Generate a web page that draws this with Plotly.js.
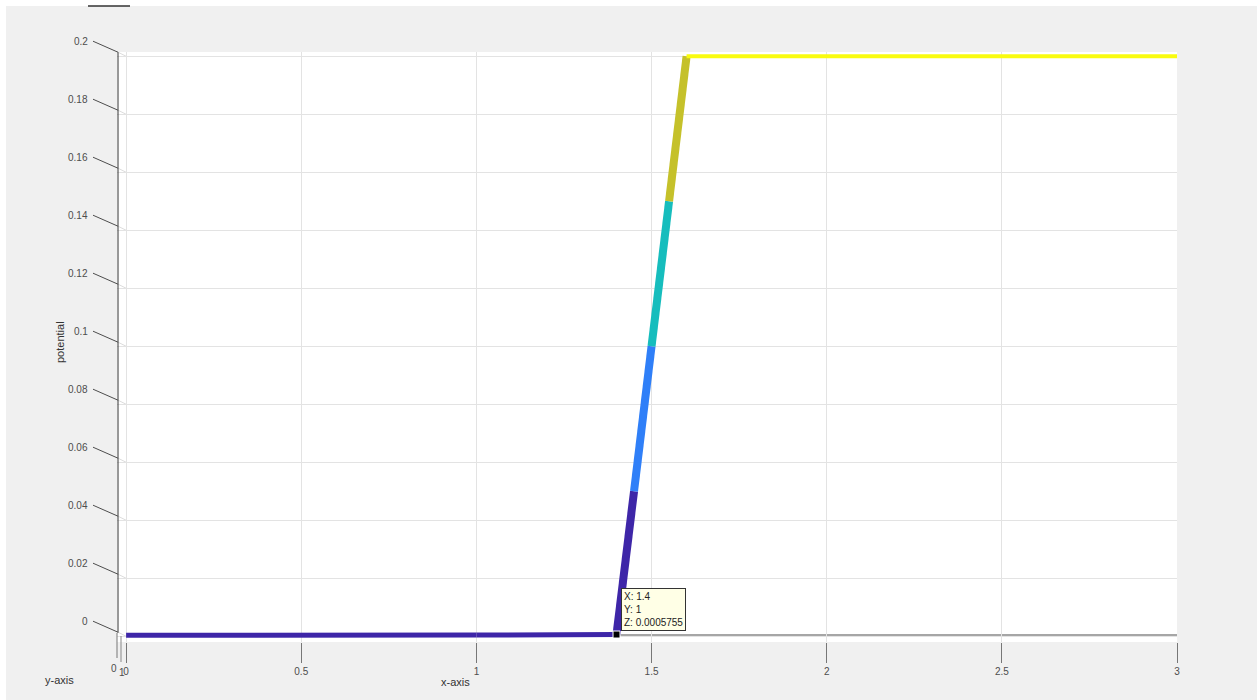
<!DOCTYPE html>
<html>
<head>
<meta charset="utf-8">
<script src="https://cdn.plot.ly/plotly-3.0.1.min.js"></script>
<style>html,body{margin:0;padding:0;background:#f0f0f0;}#chart{width:1257px;height:700px;}</style>
</head>
<body>
<div id="chart"></div>
<script>
// ---- data ----
const xValues = [0, 1, 1.4, 1.45, 1.5, 1.55, 1.6, 3];
const zValues = [0.0003, 0.0004, 0.0005755, 0.05, 0.1, 0.15, 0.2, 0.2];
const xTicks = [0, 0.5, 1, 1.5, 2, 2.5, 3];
const xTickLabels = ['0', '0.5', '1', '1.5', '2', '2.5', '3'];
const zTicks = [0, 0.02, 0.04, 0.06, 0.08, 0.1, 0.12, 0.14, 0.16, 0.18, 0.2];
const zTickLabels = ['0', '0.02', '0.04', '0.06', '0.08', '0.1', '0.12', '0.14', '0.16', '0.18', '0.2'];
const yDepthTickLabels = ['0', '1'];
const tipX = 1.4, tipY = 1, tipZ = 0.0005755;

// ---- style ----
const W = 1257, H = 700, L = 117, R = 80, T = 52, B = 58;
const zRange = [-0.002, 0.20145];
const pxX = p => (p - L) / (W - L - R);
const pxY = p => (H - B - p) / (H - T - B);
const zPerPx = (zRange[1] - zRange[0]) / (H - T - B);
const zPaper = v => (v - zRange[0]) / (zRange[1] - zRange[0]);
const cmapStops = ['#3e26a8', '#2f7ff8', '#16bdbd', '#c5c12a', '#f9fb0e'];
const zMax = Math.max(...zValues);
function cmap(z) {
  const t = Math.max(0, Math.min(1, z / zMax));
  return cmapStops[Math.min(cmapStops.length - 1, Math.floor(t * (cmapStops.length - 1) + 1e-6))];
}
const font = 'Liberation Sans, Arial, Helvetica, sans-serif';
const tickColor = '#4d4d4d';

// ---- traces: one per face, coloured by its first vertex (flat shading) ----
const traces = [];
for (let i = 0; i < xValues.length - 1; i++) {
  const dz = Math.abs(zValues[i + 1] - zValues[i]);
  const w = dz > 0.01 ? 8 : (zValues[i] > zMax / 2 ? 4 : 5);
  traces.push({
    type: 'scatter', mode: 'lines',
    x: [xValues[i], xValues[i + 1]], y: [zValues[i], zValues[i + 1]],
    line: {color: cmap(zValues[i]), width: w},
    hoverinfo: 'skip', showlegend: false
  });
}
traces.push({
  type: 'scatter', mode: 'markers', x: [tipX], y: [tipZ],
  marker: {symbol: 'square', color: '#000', size: 7, line: {color: '#fff', width: 1}},
  hoverinfo: 'skip', showlegend: false, cliponaxis: false
});

// ---- decorations ----
const shapes = [
  {type: 'rect', xref: 'paper', yref: 'paper', x0: pxX(0), x1: pxX(W), y0: pxY(0), y1: pxY(6), fillcolor: '#ffffff', line: {width: 0}},
  {type: 'rect', xref: 'paper', yref: 'paper', x0: pxX(0), x1: pxX(6), y0: pxY(0), y1: pxY(H), fillcolor: '#ffffff', line: {width: 0}},
  {type: 'line', xref: 'paper', yref: 'paper', x0: pxX(88), x1: pxX(130), y0: pxY(6), y1: pxY(6), line: {color: '#333', width: 1.5}},
  // bottom axis line
  {type: 'line', xref: 'x', yref: 'paper', x0: 0, x1: 3, y0: zPaper(0.0004), y1: zPaper(0.0004), line: {color: '#a6a6a6', width: 2}, layer: 'below'},
  // z axis line
  {type: 'line', xref: 'paper', yref: 'paper', x0: pxX(118), x1: pxX(118), y0: zPaper(0.0012), y1: zPaper(0.2 + 4 * zPerPx), line: {color: '#333', width: 1}},
  // depth-axis ticks
  {type: 'line', xref: 'paper', yref: 'paper', x0: pxX(117), x1: pxX(117), y0: pxY(633), y1: pxY(658), line: {color: '#777', width: 1}},
  {type: 'line', xref: 'paper', yref: 'paper', x0: pxX(121), x1: pxX(121), y0: pxY(636), y1: pxY(662), line: {color: '#888', width: 1}}
];
const annotations = [];
zTicks.forEach((v, i) => {
  shapes.push({type: 'line', xref: 'paper', yref: 'paper', x0: pxX(93), x1: pxX(118),
    y0: zPaper(v + 15 * zPerPx), y1: zPaper(v + 4 * zPerPx), line: {color: tickColor, width: 1}});
  shapes.push({type: 'line', xref: 'paper', yref: 'paper', x0: pxX(118), x1: pxX(126),
    y0: zPaper(v + 4 * zPerPx), y1: zPaper(v), line: {color: '#dddddd', width: 1}, layer: 'below'});
  annotations.push({xref: 'paper', yref: 'paper', x: pxX(90), y: zPaper(v + 15 * zPerPx), xanchor: 'right', yanchor: 'middle',
    text: zTickLabels[i], showarrow: false, font: {family: font, size: 10, color: tickColor}});
});
annotations.push(
  {xref: 'paper', yref: 'paper', x: pxX(114), y: pxY(668), text: yDepthTickLabels[0], showarrow: false, xanchor: 'center', yanchor: 'middle', font: {family: font, size: 10, color: tickColor}},
  {xref: 'paper', yref: 'paper', x: pxX(122), y: pxY(672), text: yDepthTickLabels[1], showarrow: false, xanchor: 'center', yanchor: 'middle', font: {family: font, size: 10, color: tickColor}},
  {xref: 'paper', yref: 'paper', x: pxX(455), y: pxY(682), text: 'x-axis', showarrow: false, xanchor: 'center', yanchor: 'middle', font: {family: font, size: 11, color: '#333'}},
  {xref: 'paper', yref: 'paper', x: pxX(59), y: pxY(680), text: 'y-axis', showarrow: false, xanchor: 'center', yanchor: 'middle', font: {family: font, size: 11, color: '#333'}},
  {xref: 'paper', yref: 'paper', x: pxX(60), y: pxY(342), text: 'potential', textangle: -90, showarrow: false, xanchor: 'center', yanchor: 'middle', font: {family: font, size: 11, color: '#333'}},
  {xref: 'x', yref: 'paper', x: tipX, y: zPaper(tipZ), xanchor: 'left', yanchor: 'bottom', xshift: 4, yshift: 4, align: 'left',
    text: 'X: ' + tipX + '<br>Y: ' + tipY + '<br>Z: ' + tipZ, showarrow: false,
    bgcolor: '#ffffe6', bordercolor: '#333', borderwidth: 1, borderpad: 2,
    font: {family: font, size: 10, color: '#222'}}
);

const layout = {
  width: W, height: H,
  margin: {l: L, r: R, t: T, b: B, pad: 0},
  paper_bgcolor: '#f0f0f0', plot_bgcolor: '#ffffff',
  showlegend: false,
  xaxis: {range: [-0.026, 3.0], tickvals: xTicks, ticktext: xTickLabels, ticks: 'outside', ticklen: 20, tickcolor: '#777', tickwidth: 1,
    showgrid: true, gridcolor: '#e3e3e3', gridwidth: 1, zeroline: false, showline: false,
    tickfont: {family: font, size: 10, color: tickColor}, fixedrange: true},
  yaxis: {range: zRange, tickvals: zTicks, showticklabels: false, ticks: '',
    showgrid: true, gridcolor: '#e3e3e3', gridwidth: 1, zeroline: false, showline: false, fixedrange: true},
  shapes: shapes, annotations: annotations,
  font: {family: font}
};
Plotly.newPlot('chart', traces, layout, {displayModeBar: false, staticPlot: true});
</script>
</body>
</html>
